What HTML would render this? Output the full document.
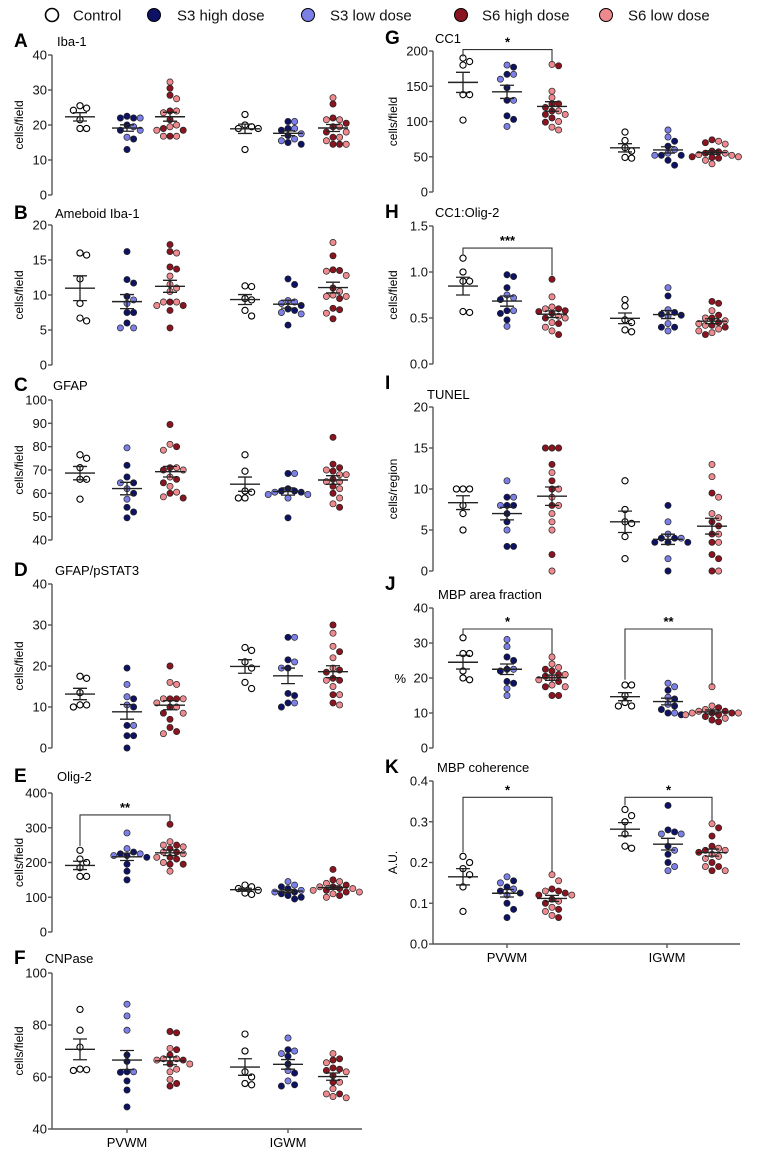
<!DOCTYPE html>
<html><head><meta charset="utf-8">
<style>
html,body{margin:0;padding:0;background:#fff;}
svg{display:block;font-family:"Liberation Sans",Arial,sans-serif;}
</style></head>
<body>
<svg id="fig" width="777" height="1154" viewBox="0 0 777 1154" xmlns="http://www.w3.org/2000/svg">
<g font-size="15" fill="#111">
  <circle cx="52" cy="15" r="6.5" fill="#fff" stroke="#000" stroke-width="1.6"/>
  <text x="73" y="20.5">Control</text>
  <circle cx="154" cy="15" r="6.5" fill="#0e1264" stroke="#000" stroke-width="1"/>
  <text x="177" y="20.5">S3 high dose</text>
  <circle cx="308" cy="15" r="6.5" fill="#7c80e6" stroke="#000" stroke-width="1"/>
  <text x="330" y="20.5">S3 low dose</text>
  <circle cx="461" cy="15" r="6.5" fill="#8a1420" stroke="#000" stroke-width="1"/>
  <text x="482" y="20.5">S6 high dose</text>
  <circle cx="606" cy="15" r="6.5" fill="#ee8a8e" stroke="#000" stroke-width="1"/>
  <text x="628" y="20.5">S6 low dose</text>
</g>
</svg>
<script>
// ---- data: per panel, per region (PV = PVWM, IG = IGWM) ----
const ctrlA_PV=[25.5,24.2,24.8,21.5,19,19], s3hA_PV=[22,22.5,20,18.5,16,13,22], s3lA_PV=[22,19.5,16.5,18.5], s6hA_PV=[30.5,28.5,24,21.5,18.5,16.8,19], s6lA_PV=[32.3,27.5,24,23.5,20,18.5,16.8,16.8,19.5];
const ctrlA_IG=[23,20,19,19,19.5,13], s3hA_IG=[18.5,17,14.5,21,19,15], s3lA_IG=[21,16,15.5,17.5,19], s6hA_IG=[26,20.5,16.5,14.5,22,19.5,18,14.5], s6lA_IG=[27.8,21.5,21.5,19.5,18,14.5,15.5,16.5];
const ctrlB_PV=[15.7,16,12.3,8.8,6.3,6.7], s3hB_PV=[16.2,12.2,11.7,7.5,6,7.5,9.8], s3lB_PV=[9.3,8.8,5.3,5.3], s6hB_PV=[17.2,16.2,13.7,14,9,8.5,7.8,5.3], s6lB_PV=[16,12.7,11.5,9,8.5,11,10.5,9];
const ctrlB_IG=[11.2,11.3,9.3,9.5,7.8,7], s3hB_IG=[11.5,12.3,7.8,5.7,8.5,8], s3lB_IG=[9,9.2,7.3,8.8,7.5], s6hB_IG=[15.6,13.6,13.5,7.9,6.6,8.1,9.5,11], s6lB_IG=[17.5,12.8,13.4,10.5,9.8,9.8,7.4,10];
const ctrlC_PV=[75,76.5,71,66,66,57.5], s3hC_PV=[72,67,54,52,49.5,60,64.5], s3lC_PV=[79.5,64.5,62,57.5], s6hC_PV=[89.5,80,71,66,64.5,58,60,70], s6lC_PV=[81,78.5,71,70,67,63,58.5,60.5];
const ctrlC_IG=[76.5,69.5,61,58,58,60.5], s3hC_IG=[68.5,61,60.5,49.5,62,61], s3lC_IG=[68.5,59.5,60.5,58,59.5], s6hC_IG=[84,71,66,54,60,63,72.5,69.5], s6lC_IG=[68,68,65,58,55.5,62,70,65];
const ctrlD_PV=[17,17.5,13.5,10,10.5,10.5], s3hD_PV=[19.5,12,10,5.5,3,0,3], s3lD_PV=[15.5,12.5,10.5,5.5], s6hD_PV=[20,12,10,8.5,7,5,4,12], s6lD_PV=[16,15.5,12,11,10,12,8.5,3.5];
const ctrlD_IG=[23.8,24.5,21,19.5,16,14.5], s3hD_IG=[27,21.5,13.3,12.8,11,10,19.5], s3lD_IG=[27,21,19.5,11], s6hD_IG=[30,23.5,18.5,19,17,16.5,11,13], s6lD_IG=[28,24.8,22,19.5,15,13,10.5,16.5];
const ctrlE_PV=[235,210,200,185,160,160], s3hE_PV=[230,220,215,195,175,150,225], s3lE_PV=[285,240,225,220], s6hE_PV=[310,250,230,215,195,195,210,240], s6lE_PV=[260,250,245,230,215,200,175,225];
const ctrlE_IG=[135,130,125,120,108,112], s3hE_IG=[130,125,115,105,95,100,110], s3lE_IG=[145,135,115,120], s6hE_IG=[180,150,130,125,115,105,120,135], s6lE_IG=[145,140,130,120,115,100,110,125];
const ctrlF_PV=[86,78,71.5,62.5,63,62.8], s3hF_PV=[68.5,62,58.5,55,48.5,61.8,66], s3lF_PV=[88,83.5,78,62], s6hF_PV=[77,77.5,70.5,68.5,65,57.5,56.5,66.5], s6lF_PV=[71,67,65,63,59,66.5,62,67];
const ctrlF_IG=[76.5,70,62,60,57.5,57], s3hF_IG=[68,70.5,56.5,57,61.5,65], s3lF_IG=[75,70,69,62.5,58.5], s6hF_IG=[67,63,62.5,60.5,53.5,63.5,58,66.5], s6lF_IG=[69,65.5,62,58,55.5,53.5,52,52.5];
const ctrlG_PV=[185,190,180,138,138,102], s3hG_PV=[177,167,148,108,103,130], s3lG_PV=[180,167,130,93,160], s6hG_PV=[179,125,120,115,105,99,125,110], s6lG_PV=[181,143,134,115,110,92,88,100];
const ctrlG_IG=[85,73,63,58,49,48], s3hG_IG=[72,65,52,52,38,45], s3lG_IG=[88,78,60,52,55], s6hG_IG=[74,70,58,55,50,48,57,49], s6lG_IG=[72,68,55,52,50,40,45,53];
const ctrlH_PV=[1.15,1.0,0.9,0.9,0.57,0.56], s3hH_PV=[0.95,0.97,0.83,0.55,0.58,0.48,0.7], s3lH_PV=[0.75,0.72,0.58,0.41], s6hH_PV=[0.92,0.6,0.57,0.5,0.44,0.32,0.58,0.55], s6lH_PV=[0.73,0.62,0.6,0.52,0.45,0.4,0.36,0.5];
const ctrlH_IG=[0.63,0.7,0.48,0.45,0.35,0.37], s3hH_IG=[0.74,0.56,0.54,0.4,0.4,0.53], s3lH_IG=[0.83,0.59,0.44,0.36,0.52], s6hH_IG=[0.66,0.68,0.53,0.5,0.4,0.32,0.45,0.42], s6lH_IG=[0.58,0.5,0.47,0.44,0.38,0.36,0.34,0.42];
const ctrlI_PV=[10,10,10,8,7,5], s3hI_PV=[9,8,7,6,3,3,8], s3lI_PV=[11,9,8,5], s6hI_PV=[15,15,15,13,11,10,8,2], s6lI_PV=[12,10,9,8,7,6,5,0];
const ctrlI_IG=[11,7.5,6,5.8,4.2,1.5], s3hI_IG=[8,4,4,3.5,3.5,3.5,0], s3lI_IG=[6,4.5,4,1.5], s6hI_IG=[9.5,6,5.5,3.5,2,1.5,0,4.5], s6lI_IG=[13,11.5,9,7,6.5,4.5,3.5,0];
const ctrlJ_PV=[31.5,27,27,22,20,19.5], s3hJ_PV=[26,25,22,19,18.5,22.5], s3lJ_PV=[31,29,22.5,17,15], s6hJ_PV=[22.5,22,20.5,19,17.5,15,15,21], s6lJ_PV=[26,24,23,21,19.5,18,17.5,20];
const ctrlJ_IG=[18,18,15,13,12,12], s3hJ_IG=[16.5,14,12,11,10,9.5], s3lJ_IG=[17.5,18.5,14.5,10,12.5], s6hJ_IG=[11.5,10.5,10,9.5,9,8,7.5,10], s6lJ_IG=[17.5,12,11,10.5,10,9.5,8.5,10];
const ctrlK_PV=[0.215,0.2,0.185,0.17,0.14,0.08], s3hK_PV=[0.155,0.14,0.125,0.1,0.085,0.065,0.13], s3lK_PV=[0.165,0.15,0.135,0.12], s6hK_PV=[0.135,0.13,0.12,0.11,0.1,0.085,0.065,0.125], s6lK_PV=[0.17,0.155,0.13,0.12,0.105,0.09,0.07,0.08];
const ctrlK_IG=[0.33,0.315,0.3,0.27,0.24,0.235], s3hK_IG=[0.34,0.28,0.275,0.24,0.22,0.2], s3lK_IG=[0.27,0.27,0.23,0.19,0.18], s6hK_IG=[0.285,0.265,0.24,0.23,0.225,0.2,0.18,0.19], s6lK_IG=[0.295,0.235,0.23,0.22,0.215,0.21,0.19,0.18];

const regions=["PVWM","IGWM"];
// significance brackets: panel, region, bracket level, left-leg end, right-leg end, label
const sigPanels=["G","H","E","J","J","K","K"];
const sigRegions=["PVWM","PVWM","PVWM","PVWM","IGWM","PVWM","IGWM"];
const sigLevels=[202,1.26,337,34,34,0.36,0.36];
const sigLeft=[192,1.18,248,32.5,19.5,0.225,0.34];
const sigRight=[184,0.96,318,27,18,0.178,0.302];
const sigLabels=["*","***","**","*","**","*","*"];

const DATA={
 A:{PVWM:[ctrlA_PV,s3hA_PV,s3lA_PV,s6hA_PV,s6lA_PV],IGWM:[ctrlA_IG,s3hA_IG,s3lA_IG,s6hA_IG,s6lA_IG]},
 B:{PVWM:[ctrlB_PV,s3hB_PV,s3lB_PV,s6hB_PV,s6lB_PV],IGWM:[ctrlB_IG,s3hB_IG,s3lB_IG,s6hB_IG,s6lB_IG]},
 C:{PVWM:[ctrlC_PV,s3hC_PV,s3lC_PV,s6hC_PV,s6lC_PV],IGWM:[ctrlC_IG,s3hC_IG,s3lC_IG,s6hC_IG,s6lC_IG]},
 D:{PVWM:[ctrlD_PV,s3hD_PV,s3lD_PV,s6hD_PV,s6lD_PV],IGWM:[ctrlD_IG,s3hD_IG,s3lD_IG,s6hD_IG,s6lD_IG]},
 E:{PVWM:[ctrlE_PV,s3hE_PV,s3lE_PV,s6hE_PV,s6lE_PV],IGWM:[ctrlE_IG,s3hE_IG,s3lE_IG,s6hE_IG,s6lE_IG]},
 F:{PVWM:[ctrlF_PV,s3hF_PV,s3lF_PV,s6hF_PV,s6lF_PV],IGWM:[ctrlF_IG,s3hF_IG,s3lF_IG,s6hF_IG,s6lF_IG]},
 G:{PVWM:[ctrlG_PV,s3hG_PV,s3lG_PV,s6hG_PV,s6lG_PV],IGWM:[ctrlG_IG,s3hG_IG,s3lG_IG,s6hG_IG,s6lG_IG]},
 H:{PVWM:[ctrlH_PV,s3hH_PV,s3lH_PV,s6hH_PV,s6lH_PV],IGWM:[ctrlH_IG,s3hH_IG,s3lH_IG,s6hH_IG,s6lH_IG]},
 I:{PVWM:[ctrlI_PV,s3hI_PV,s3lI_PV,s6hI_PV,s6lI_PV],IGWM:[ctrlI_IG,s3hI_IG,s3lI_IG,s6hI_IG,s6lI_IG]},
 J:{PVWM:[ctrlJ_PV,s3hJ_PV,s3lJ_PV,s6hJ_PV,s6lJ_PV],IGWM:[ctrlJ_IG,s3hJ_IG,s3lJ_IG,s6hJ_IG,s6lJ_IG]},
 K:{PVWM:[ctrlK_PV,s3hK_PV,s3lK_PV,s6hK_PV,s6lK_PV],IGWM:[ctrlK_IG,s3hK_IG,s3lK_IG,s6hK_IG,s6lK_IG]}
};

// layout config
const COLS=[{axisX:52,centers:[80,127,170,245,288,333],xEnd:362,regX:[127,288]},
            {axisX:433,centers:[463,507,552,625,668,712],xEnd:740,regX:[507,667]}];
const PANELS=[
 {k:"A",t:"Iba-1",c:0,top:55,bot:195,min:0,max:40,ticks:["0","10","20","30","40"],yl:"cells/field",ly:41,tx:57},
 {k:"B",t:"Ameboid Iba-1",c:0,top:225,bot:365,min:0,max:20,ticks:["0","5","10","15","20"],yl:"cells/field",ly:213,tx:55},
 {k:"C",t:"GFAP",c:0,top:400,bot:540,min:40,max:100,ticks:["40","50","60","70","80","90","100"],yl:"cells/field",ly:385,tx:53},
 {k:"D",t:"GFAP/pSTAT3",c:0,top:584,bot:748,min:0,max:40,ticks:["0","10","20","30","40"],yl:"cells/field",ly:570,tx:55},
 {k:"E",t:"Olig-2",c:0,top:793,bot:932,min:0,max:400,ticks:["0","100","200","300","400"],yl:"cells/field",ly:776,tx:57},
 {k:"F",t:"CNPase",c:0,top:973,bot:1129,min:40,max:100,ticks:["40","60","80","100"],yl:"cells/field",ly:958,tx:45,xaxis:true},
 {k:"G",t:"CC1",c:1,top:51,bot:192,min:0,max:200,ticks:["0","50","100","150","200"],yl:"cells/field",ly:38,tx:435},
 {k:"H",t:"CC1:Olig-2",c:1,top:226,bot:364,min:0,max:1.5,ticks:["0.0","0.5","1.0","1.5"],yl:"cells/field",ly:212,tx:435},
 {k:"I",t:"TUNEL",c:1,top:407,bot:571,min:0,max:20,ticks:["0","5","10","15","20"],yl:"cells/region",ly:383,tly:394,tx:427},
 {k:"J",t:"MBP area fraction",c:1,top:608,bot:748,min:0,max:40,ticks:["0","10","20","30","40"],yl:"%",ylh:true,ly:584,tly:594,tx:438},
 {k:"K",t:"MBP coherence",c:1,top:781,bot:944,min:0,max:0.4,ticks:["0.0","0.1","0.2","0.3","0.4"],yl:"A.U.",ly:767,tx:437,xaxis:true}
];
const FILL=["#ffffff","#0e1264","#7c80e6","#8a1420","#ee8a8e"];
const NS="http://www.w3.org/2000/svg";
const svg=document.getElementById('fig');
function mk(tag,attrs,parent){const e=document.createElementNS(NS,tag);for(const a in attrs)e.setAttribute(a,attrs[a]);(parent||svg).appendChild(e);return e;}
function mean(a){return a.reduce((s,v)=>s+v,0)/a.length;}
function sem(a){const m=mean(a);const sd=Math.sqrt(a.reduce((s,v)=>s+(v-m)*(v-m),0)/(a.length-1));return sd/Math.sqrt(a.length);}

PANELS.forEach(p=>{
  const col=COLS[p.c];
  const y=v=>p.bot-(v-p.min)/(p.max-p.min)*(p.bot-p.top);
  const g=mk('g',{});
  
  
  const L=mk('text',{x:col.axisX-(p.c?48:38),y:p.ly+6,'font-size':19,'font-weight':'bold',fill:'#000'},g);
  L.textContent=p.k;
  
  
  const T=mk('text',{x:p.tx,y:(p.tly||p.ly)+5,'font-size':13,fill:'#000'},g);
  T.textContent=p.t;
  
  
  const ax=mk('line',{x1:col.axisX,x2:col.axisX,y1:p.top,y2:p.bot,stroke:'#555','stroke-width':1.4},g);
  
  
  p.ticks.forEach(tl=>{
    const v=parseFloat(tl);const ty=y(v);
    mk('line',{x1:col.axisX-4,x2:col.axisX,y1:ty,y2:ty,stroke:'#555','stroke-width':1.4},g);
    const tt=mk('text',{x:col.axisX-5,y:ty+4.5,'font-size':13,'text-anchor':'end',fill:'#111'},g);
    tt.textContent=tl;
    
    
  });
  const my=(p.top+p.bot)/2;
  let yt;
  if(p.ylh){yt=mk('text',{x:col.axisX-27,y:y(20)+5,'font-size':13,'text-anchor':'end',fill:'#000'},g);}
  else{const lx=p.c?397:23;yt=mk('text',{x:lx,y:my,'font-size':12,'text-anchor':'middle',fill:'#000',transform:`rotate(-90 ${lx} ${my})`},g);}
  yt.textContent=p.yl;
  
  
  if(p.xaxis){
    const xa=mk('line',{x1:col.axisX,x2:col.xEnd,y1:p.bot,y2:p.bot,stroke:'#555','stroke-width':1.4},g);
    
    
    regions.forEach((r,ri)=>{
      const rx=col.regX[ri];
      mk('line',{x1:rx,x2:rx,y1:p.bot,y2:p.bot+4,stroke:'#555','stroke-width':1.4},g);
      const xl=mk('text',{x:rx,y:p.bot+18,'font-size':13,'text-anchor':'middle',fill:'#000'},g);
      xl.textContent=r;
      
      
    });
  }
  regions.forEach((r,ri)=>{
    const sets=DATA[p.k][r];
    const groups=[[0],[1,2],[3,4]];
    groups.forEach((gi,gIdx)=>{
      const cx=col.centers[ri*3+gIdx];
      let pts=[];
      gi.forEach(si=>sets[si].forEach(v=>pts.push({v,si})));
      pts.sort((a,b)=>b.v-a.v);
      const placed=[];const d=6.6;
      pts.forEach(pt=>{
        const py=y(pt.v);let off=0;
        for(let k=0;k<12;k++){
          const cand=k===0?0:(k%2?1:-1)*Math.ceil(k/2)*d;
          if(!placed.some(q=>Math.abs(q.y-py)<6.2&&Math.abs(q.x-(cx+cand))<6.2)){off=cand;break;}
        }
        placed.push({x:cx+off,y:py});
        const c=mk('circle',{cx:cx+off,cy:py,r:3.1,fill:FILL[pt.si],stroke:pt.si===0?'#000':'#222','stroke-width':pt.si===0?1.1:0.7},g);
        
        
      });
      const all=pts.map(q=>q.v);const m=mean(all),s=sem(all);
      const ml=mk('line',{x1:cx-15,x2:cx+15,y1:y(m),y2:y(m),stroke:'#222','stroke-width':1.4},g);
      
      
      const eb=mk('path',{d:`M${cx},${y(m+s)}V${y(m-s)}M${cx-7},${y(m+s)}H${cx+7}M${cx-7},${y(m-s)}H${cx+7}`,stroke:'#222','stroke-width':1.3,fill:'none'},g);
      
      
    });
  });
  sigPanels.forEach((sp,i)=>{
    if(sp!==p.k)return;
    const ri=regions.indexOf(sigRegions[i]);
    const x1=col.centers[ri*3],x2=col.centers[ri*3+2];
    const by=y(sigLevels[i]);
    const br=mk('path',{d:`M${x1},${y(sigLeft[i])}V${by}H${x2}V${y(sigRight[i])}`,stroke:'#333','stroke-width':1.1,fill:'none'},g);
    
    
    const st=mk('text',{x:(x1+x2)/2,y:by-3,'font-size':13,'font-weight':'bold','text-anchor':'middle',fill:'#000'},g);
    st.textContent=sigLabels[i];
    
    
  });
});
</script>
</body></html>
